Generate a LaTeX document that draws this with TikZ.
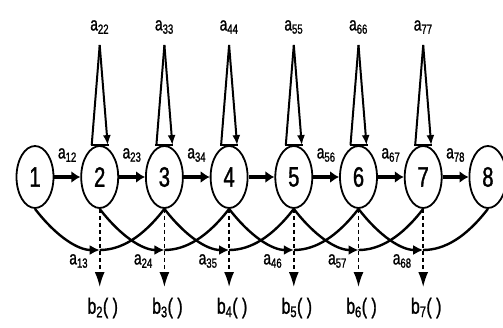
\documentclass[tikz,border=0pt]{standalone}
\usepackage{fontspec}
\setmainfont{Liberation Sans}
\newfontfamily\nfont[FakeStretch=0.72,FakeBold=1.2]{Liberation Sans}
\usetikzlibrary{shapes.geometric,arrows.meta}
\begin{document}
\begin{tikzpicture}[x=1pt,y=-1pt,
  state/.style={ellipse,draw,line width=1.8pt,minimum width=37pt,minimum height=62pt,inner sep=0pt,font=\nfont\fontsize{28}{28}\selectfont},
  lab/.style={font=\nfont\fontsize{19}{19}\selectfont,inner sep=0pt},
  blab/.style={font=\nfont\fontsize{22}{22}\selectfont,inner sep=0pt},
  fwd/.style={line width=3.8pt,-{Latex[length=9pt,width=12pt]}},
  loopline/.style={line width=2pt},
  looparrow/.style={line width=2pt,-{Latex[length=10pt,width=8pt]}},
  arcline/.style={line width=2.4pt},
  arcarrow/.style={line width=2.4pt,-{Latex[length=10pt,width=10pt]}},
  dashline/.style={line width=1.6pt,dash pattern=on 4pt off 3pt,-{Latex[length=15pt,width=10pt]}}]
\useasboundingbox (0,0) rectangle (503,327);
\foreach \i/\x in {1/35,2/99.7,3/164.4,4/229.1,5/293.8,6/358.5,7/423.2,8/487.9}
  \node[state] (n\i) at (\x,177) {\i};
% self loops
\foreach \i/\x in {2/99.7,3/164.4,4/229.1,5/293.8,6/358.5,7/423.2}{
  \coordinate (p\i) at (\x,45);
  \draw[loopline] ([xshift=-8pt]n\i.north) -- (p\i);
  \draw[looparrow] (p\i) -- ([xshift=8pt]n\i.north);
  \draw[loopline] ([xshift=-9pt]n\i.north) -- ([xshift=9pt]n\i.north);
  \node[lab] (l\i) at (\x,27) {a\textsubscript{\i\i}};
}
% forward transitions
\foreach \i/\j in {1/2,2/3,3/4,4/5,5/6,6/7,7/8}
  \draw[fwd] (n\i) -- (n\j);
\foreach \i/\j/\x in {1/2/67.4,2/3/132,3/4/196.8,5/6/326.2,6/7/390.9,7/8/455.6}
  \node[lab] (f\i\j) at (\x,155) {a\textsubscript{\i\j}};
% skip transitions and emissions
\foreach \i/\j/\k/\x in {1/2/3/99.7,2/3/4/164.4,3/4/5/229.1,4/5/6/293.8,5/6/7/358.5,6/7/8/423.2}{
  \coordinate (m\j) at (\x,250);
  \draw[arcarrow] (n\i.south) .. controls +(21.6,28) and +(-21.6,0) .. (m\j);
  \draw[arcline] (m\j) .. controls +(21.6,0) and +(-21.6,28) .. (n\k.south);
  \coordinate (e\j) at (\x,287);
  \draw[dashline] (n\j.south) -- (e\j);
  \node[lab] (s\i\k) at (\x-21,261) {a\textsubscript{\i\k}};
  \node[blab] (b\j) at (\x+3,308) {b\textsubscript{\j}( )};
}
\end{tikzpicture}
\end{document}
